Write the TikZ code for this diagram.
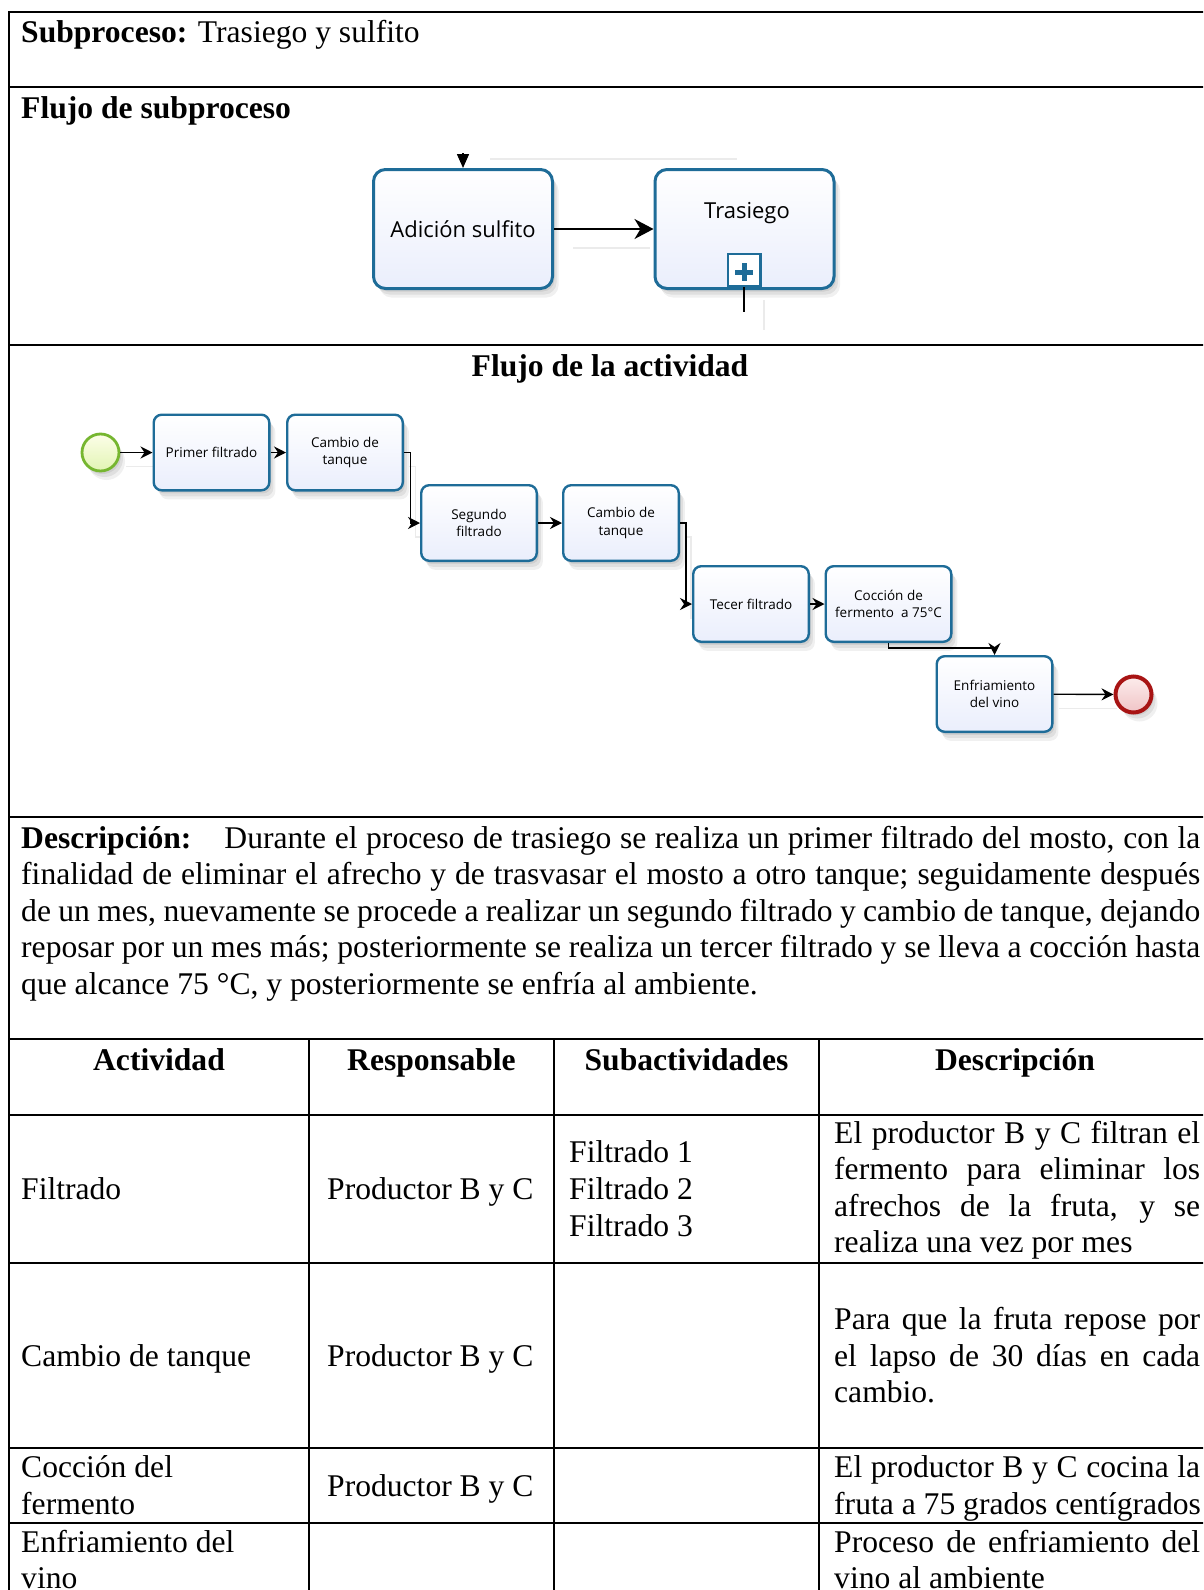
\documentclass[tikz,border=0pt]{standalone}
\usepackage{fontspec}
\setmainfont{Liberation Serif}
\newfontfamily\bpmnfont{Open Sans}
\usetikzlibrary{arrows.meta,shadows,calc}

\definecolor{taskblue}{RGB}{30,108,152}
\definecolor{taskfill}{RGB}{234,238,252}
\definecolor{startgreen}{RGB}{118,182,48}
\definecolor{startfill}{RGB}{226,244,180}
\definecolor{starttop}{RGB}{252,254,232}
\definecolor{endred}{RGB}{168,20,20}
\definecolor{endfill}{RGB}{240,196,198}
\definecolor{endtop}{RGB}{252,236,236}

\begin{document}
\begin{tikzpicture}[x=1pt,y=-1pt,
  rule/.style={line width=2pt},
  body/.style={font=\fontsize{31.6}{36.6}\selectfont, inner sep=0pt, anchor=base west},
  headc/.style={font=\bfseries\fontsize{31.6}{36.6}\selectfont, inner sep=0pt, anchor=base},
  softshadow/.style={
    drop shadow={opacity=0.07, fill=black, shadow xshift=2pt, shadow yshift=-3pt},
    drop shadow={opacity=0.07, fill=black, shadow xshift=4pt, shadow yshift=-6pt},
    drop shadow={opacity=0.06, fill=black, shadow xshift=6pt, shadow yshift=-9pt}},
  taskbase/.style={draw=taskblue, rounded corners=8pt, line width=2.4pt,
    top color=white, bottom color=taskfill, align=center, inner sep=2pt},
  task/.style={taskbase, softshadow, minimum width=115.6pt, minimum height=75.6pt,
    font=\bpmnfont\fontsize{13.5}{17.5}\selectfont},
  subtask/.style={taskbase, softshadow, rounded corners=12pt, line width=3pt,
    minimum width=179pt, minimum height=119pt,
    font=\bpmnfont\fontsize{22}{26}\selectfont},
  flow/.style={line width=1.4pt, -{Stealth[length=12pt,width=12pt,inset=4pt]}},
  bigflow/.style={line width=2pt, -{Stealth[length=19pt,width=20pt,inset=6pt]}},
  cshad/.style={draw=black!8, line width=1.4pt},
]
\useasboundingbox (0,0) rectangle (1203,1590);
\clip (0,0) rectangle (1203,1590);
\fill[white] (0,0) rectangle (1203,1590);

% ---------- frame and table rules ----------
\foreach \yy in {12,87,345,817,1039,1115,1263,1448,1523}
  \draw[rule] (9,\yy) -- (1211,\yy);
\draw[rule] (9,11) -- (9,1600);
\draw[rule] (1211,11) -- (1211,1600);
\foreach \xx in {309,554,819}
  \draw[rule] (\xx,1039) -- (\xx,1600);

% ---------- headings ----------
\node[body] (tsub) at (21,42) {\textbf{Subproceso:} Trasiego y sulfito};
\node[body] (tflujo) at (21,118) {\textbf{Flujo de subproceso}};
\node[headc] (tact) at (610,376) {Flujo de la actividad};

% ---------- subprocess flow ----------
\draw[cshad] (490,159) -- (737,159);
\draw[cshad] (573,248) -- (650,248);
\draw[cshad] (764,300) -- (764,330);

\node[subtask] (adicion) at (463,229) {Adición sulfito};
\node[subtask] (tras) at (744.5,229) {};
\node[font=\bpmnfont\fontsize{22}{26}\selectfont, inner sep=0pt] (trastxt) at (747,213) {Trasiego};
\node[draw=taskblue, line width=2.4pt, fill=white, minimum width=32.6pt,
      minimum height=31.6pt, inner sep=0pt] (plus) at (744,270) {};
\draw[taskblue, line width=5pt] ($(plus.center)+(-9,2)$) -- ++(18,0);
\draw[taskblue, line width=5pt] ($(plus.center)+(0,-7)$) -- ++(0,18);

\coordinate (topin) at (463,153);
\coordinate (plusout) at (744,312);
\draw[line width=1.5pt, -{Triangle[length=14pt,width=12pt]}] (topin) -- (adicion.north);
\draw[line width=1.5pt] (plus.south) -- (plusout);
\draw[bigflow] (adicion.east) -- (tras.west);

% ---------- activity flow ----------
\begin{scope}[transform canvas={shift={(5pt,-14pt)}}]
  \draw[cshad] (121,452.5) -- (150,452.5);
  \draw[cshad] (404,452.5) -- (410.5,452.5) -- (410.5,523) -- (418,523);
  \draw[cshad] (680,523) -- (686,523) -- (686,604) -- (690,604);
  \draw[cshad] (1054,694.5) -- (1112,694.5);
\end{scope}

\node[circle, draw=startgreen, line width=2.8pt, top color=starttop, bottom color=startfill,
      minimum size=37pt, inner sep=0pt, softshadow] (start) at (100.5,452.5) {};
\node[task] (b1) at (211.5,452.5) {Primer filtrado};
\node[task] (b2) at (345,452.5) {Cambio de\\tanque};
\node[task] (b3) at (479,523) {Segundo\\filtrado};
\node[task] (b4) at (621,523) {Cambio de\\tanque};
\node[task] (b5) at (751,604) {Tecer filtrado};
\node[task, minimum width=125.6pt] (b6) at (888.5,604) {Cocción de\\fermento\ \ a 75°C};
\node[task] (b7) at (994.5,694) {Enfriamiento\\del vino};
\node[circle, draw=endred, line width=4pt, top color=endtop, bottom color=endfill,
      minimum size=36pt, inner sep=0pt, softshadow] (end) at (1133.5,694.5) {};

\draw[flow] (start) -- (b1);
\draw[flow] (b1) -- (b2);
\draw[flow] (b2.east) -- ++(6.5,0) |- (b3.west);
\draw[flow] (b3) -- (b4);
\draw[flow] (b4.east) -- ++(6,0) |- (b5.west);
\draw[flow] (b5) -- (b6);
\draw[flow] (b6.south) -- ++(0,5) -| (b7.north);
\draw[flow] (b7) -- (end);

% ---------- description ----------
\node[body] (d1) at (21,848) {\makebox[1179pt][s]{\textbf{Descripción:}\hspace*{33pt}Durante el proceso de trasiego se realiza un primer filtrado del mosto, con la}};
\node[body] (d2) at (21,884.6) {\makebox[1179pt][s]{finalidad de eliminar el afrecho y de trasvasar el mosto a otro tanque; seguidamente después}};
\node[body] (d3) at (21,921.2) {\makebox[1179pt][s]{de un mes, nuevamente se procede a realizar un segundo filtrado y cambio de tanque, dejando}};
\node[body] (d4) at (21,957.8) {\makebox[1179pt][s]{reposar por un mes más; posteriormente se realiza un tercer filtrado y se lleva a cocción hasta}};
\node[body] (d5) at (21,994.4) {que alcance 75 °C, y posteriormente se enfría al ambiente.};

% ---------- activity table ----------
\node[headc] (h1) at (159,1070) {Actividad};
\node[headc] (h2) at (431.5,1070) {Responsable};
\node[headc] (h3) at (686.5,1070) {Subactividades};
\node[headc] (h4) at (1015,1070) {Descripción};

% row: Filtrado
\node[body] (r1a) at (21,1199.5) {Filtrado};
\node[body] (r1b) at (327,1199.5) {Productor B y C};
\node[body] (r1c1) at (569,1162.9) {Filtrado 1};
\node[body] (r1c2) at (569,1199.5) {Filtrado 2};
\node[body] (r1c3) at (569,1236.1) {Filtrado 3};
\node[body] (r1d1) at (834,1143) {\makebox[366pt][s]{El productor B y C filtran el}};
\node[body] (r1d2) at (834,1179.6) {\makebox[366pt][s]{fermento para eliminar los}};
\node[body] (r1d3) at (834,1216.2) {\makebox[366pt][s]{afrechos de la fruta, y se}};
\node[body] (r1d4) at (834,1252.8) {realiza una vez por mes};

% row: Cambio de tanque
\node[body] (r2a) at (21,1366) {Cambio de tanque};
\node[body] (r2b) at (327,1366) {Productor B y C};
\node[body] (r2d1) at (834,1329.4) {\makebox[366pt][s]{Para que la fruta repose por}};
\node[body] (r2d2) at (834,1366) {\makebox[366pt][s]{el lapso de 30 días en cada}};
\node[body] (r2d3) at (834,1402.6) {cambio.};

% row: Cocción del fermento
\node[body] (r3a1) at (21,1477.7) {Cocción del};
\node[body] (r3a2) at (21,1514.3) {fermento};
\node[body] (r3b) at (327,1496) {Productor B y C};
\node[body] (r3d1) at (834,1477.7) {\makebox[366pt][s]{El productor B y C cocina la}};
\node[body] (r3d2) at (834,1514.3) {fruta a 75 grados centígrados};

% row: Enfriamiento del vino
\node[body] (r4a1) at (21,1552) {Enfriamiento del};
\node[body] (r4a2) at (21,1588.6) {vino};
\node[body] (r4d1) at (834,1552) {\makebox[366pt][s]{Proceso de enfriamiento del}};
\node[body] (r4d2) at (834,1588.6) {vino al ambiente};
\end{tikzpicture}
\end{document}
